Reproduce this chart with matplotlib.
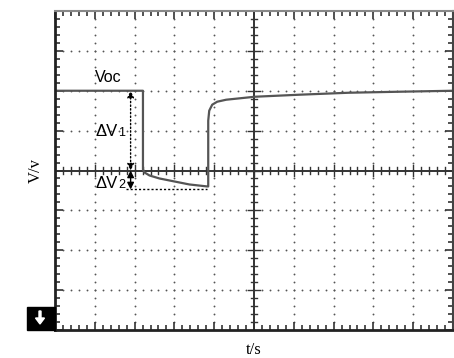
import numpy as np
import matplotlib.pyplot as plt
from matplotlib.patches import Rectangle, FancyArrow

# trace (divisions)
t = [-5.0, -2.79, -2.79, -2.75, -2.625, -2.375, -2.0, -1.625, -1.175, -1.15,
     -1.15, -1.125, -1.05, -0.925, -0.7, 0.025, 1.125, 2.375, 3.625, 5.0]
v = [2.0, 2.0, 0.025, -0.05, -0.125, -0.2, -0.275, -0.35, -0.4, -0.4,
     1.25, 1.5, 1.65, 1.725, 1.775, 1.85, 1.9, 1.95, 1.975, 2.0]

voc = 2.0
v_dip = -0.475
arrow_x = -3.1
dip_end = -1.175

fig = plt.figure(figsize=(4.54, 3.58), dpi=100)
ax = fig.add_axes([55/454, 28/358, 398/454, 319/358])
ax.set_xlim(-5, 5)
ax.set_ylim(-4, 4)

# dotted graticule
dots = np.arange(-4.8, 4.81, 0.2)
for k in range(-4, 5):
    if k == 0:
        continue
    ax.scatter(np.full(len(dots), k), dots, s=1.8, c='#555', lw=0)
dots_x = np.arange(-4.8, 4.81, 0.2)
for k in range(-3, 4):
    if k == 0:
        continue
    ax.scatter(dots_x, np.full(len(dots_x), k), s=1.8, c='#555', lw=0)

# centre axes with ticks
ax.axhline(0, color='#333', lw=1.4)
ax.axvline(0, color='#333', lw=1.4)
for p in np.arange(-4.8, 4.81, 0.2):
    big = abs(p - round(p)) < 1e-6
    h = 0.15 if big else 0.08
    ax.plot([p, p], [-h, h], color='#333', lw=1.0)
for p in np.arange(-3.8, 3.81, 0.2):
    big = abs(p - round(p)) < 1e-6
    h = 0.15 if big else 0.08
    ax.plot([-h, h], [p, p], color='#333', lw=1.0)

# signal
ax.plot(t, v, color='#555', lw=1.6)

# annotations
ax.text(-4.0, voc + 0.225, 'Voc', fontsize=11.5, family='Liberation Sans')
ax.text(-3.975, 0.875, 'ΔV', fontsize=12, family='Liberation Sans')
ax.text(-3.42, 0.875, '1', fontsize=9, family='Liberation Sans')
ax.text(-3.975, -0.45, 'ΔV', fontsize=12, family='Liberation Sans')
ax.text(-3.42, -0.45, '2', fontsize=9, family='Liberation Sans')
ax.annotate('', xy=(arrow_x, voc), xytext=(arrow_x, 0),
            arrowprops=dict(arrowstyle='<|-|>', ls=':', color='k', lw=1,
                            mutation_scale=10, shrinkA=0, shrinkB=0))
ax.annotate('', xy=(arrow_x, 0), xytext=(arrow_x, v_dip),
            arrowprops=dict(arrowstyle='<|-|>', color='k', lw=1,
                            mutation_scale=10, shrinkA=0, shrinkB=0))
ax.plot([arrow_x - 0.12, dip_end], [v_dip, v_dip], color='k', lw=1, ls=(0, (1.5, 1.5)))

# frame
ax.set_xticks(range(-5, 6))
ax.set_yticks(range(-4, 5))
ax.set_xticks(np.arange(-5, 5.01, 0.2), minor=True)
ax.set_yticks(np.arange(-4, 4.01, 0.2), minor=True)
ax.tick_params(which='both', direction='in', top=True, right=True,
               labelbottom=False, labelleft=False, color='#333')
ax.tick_params(which='major', length=6, width=1.2)
ax.tick_params(which='minor', length=3.5, width=1.2)
ax.spines['left'].set_linewidth(2)
ax.spines['left'].set_color('#222')
ax.spines['bottom'].set_linewidth(2)
ax.spines['bottom'].set_color('#222')
ax.spines['top'].set_linewidth(1.5)
ax.spines['top'].set_color('#888')
ax.spines['right'].set_linewidth(1.5)
ax.spines['right'].set_color('#444')

ax.set_xlabel('t/s', fontsize=12, family='Liberation Serif', labelpad=9)
ax.set_ylabel('V/v', fontsize=12, family='Liberation Serif', labelpad=8)

# channel marker box
fig.add_artist(Rectangle((27/454, 28/358), 28/454, 23/358, transform=fig.transFigure,
                         color='black'))
fig.add_artist(FancyArrow(40/454, 47/358, 0, -13/358, width=2/454, head_width=9/454,
                          head_length=6/358, color='white', transform=fig.transFigure,
                          length_includes_head=True))

fig.savefig('out.png', dpi=100)
